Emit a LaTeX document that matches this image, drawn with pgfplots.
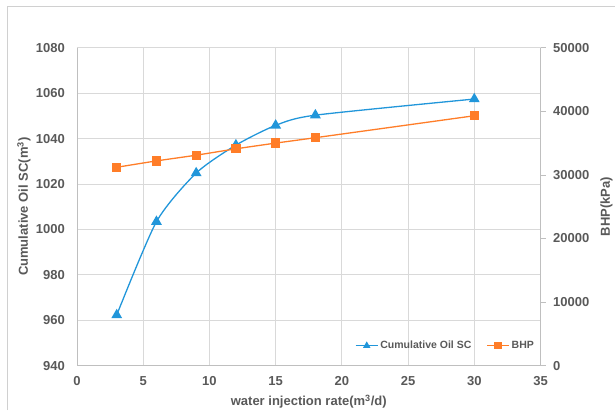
\documentclass[border=0pt]{standalone}
\usepackage{fontspec}
\setmainfont{Liberation Sans}
\usepackage{pgfplots}
\usepackage{pgfplotstable}
\pgfplotsset{compat=1.18}

\definecolor{oilblue}{RGB}{33,150,218}
\definecolor{bhporange}{RGB}{255,125,40}
\definecolor{txtgray}{RGB}{89,89,89}
\definecolor{gridgray}{RGB}{217,217,217}
\definecolor{axgray}{RGB}{191,191,191}
\definecolor{framegray}{RGB}{208,208,208}

% cumulative oil (m^3) against water injection rate (m^3/d)
\pgfplotstableread{
rate oil
3  962.3
6  1003.4
9  1024.8
12 1037.1
15 1045.8
18 1050.3
30 1057.4
}\oiltable

% bottom-hole pressure (kPa)
\pgfplotstableread{
rate bhp
3  31200
6  32200
9  33100
12 34100
15 35000
18 35850
30 39300
}\bhptable

\newcommand{\labfont}{\fontsize{13}{13}\selectfont\bfseries\color{txtgray}}

\pgfplotsset{
  common/.style={
    at={(77pt,44.3pt)}, anchor=south west,
    scale only axis, width=463.5pt, height=318pt,
    xmin=0, xmax=35,
    tick label style={font=\fontsize{13}{13}\selectfont\bfseries, text=txtgray, inner sep=0pt},
    /pgf/number format/assume math mode=true,
    /pgf/number format/1000 sep={},
  },
  oilstyle/.style={color=oilblue, line width=1.3pt, smooth, tension=0.42, mark=triangle*, mark size=5pt},
  bhpstyle/.style={color=bhporange, line width=1.3pt, smooth, tension=0.42, mark=square*, mark size=4pt},
}

\begin{document}
\begin{tikzpicture}[x=1pt,y=1pt]
\useasboundingbox (0,0) rectangle (615,410);
\draw[framegray, line width=1pt] (7,0) -- (7,403) -- (615,403);

\begin{axis}[common,
  ymin=940, ymax=1080, ytick={940,960,...,1080},
  xtick={0,5,...,35},
  axis x line*=bottom, axis y line*=left,
  axis line style={axgray, line width=0.8pt, -},
  x axis line style={-}, y axis line style={-},
  grid=major, major grid style={gridgray, line width=0.8pt},
  major tick length=0pt,
  xticklabel shift=11pt, yticklabel shift=12pt,
  xlabel={\labfont water injection rate(m\textsuperscript{3}/d)},
  ylabel={\labfont Cumulative Oil SC(m\textsuperscript{3})},
  every axis x label/.style={at={(axis description cs:0.5,-0.1126)}, anchor=center},
  every axis y label/.style={at={(axis description cs:-0.1145,0.5)}, rotate=90, anchor=center},
]
\addplot[oilstyle] table[x=rate, y=oil] {\oiltable};
\end{axis}

\begin{axis}[common,
  ymin=0, ymax=50000, ytick={0,10000,...,50000},
  xtick=\empty,
  axis y line*=right, axis x line=none,
  axis line style={axgray, line width=0.8pt, -},
  y axis line style={-},
  scaled y ticks=false,
  ytick align=outside, major tick length=5pt,
  tick style={axgray, line width=0.8pt},
  yticklabel shift=7.5pt,
  ylabel={\labfont BHP(kPa)},
  every axis y label/.style={at={(axis description cs:1.1425,0.5)}, rotate=90, anchor=center},
  legend columns=2,
  legend cell align=left,
  legend style={draw=none, fill=none, at={(axis description cs:0.795,0.063)}, anchor=center,
    font=\fontsize{10.5}{10.5}\selectfont\bfseries, text=txtgray,
    /tikz/every even column/.append style={column sep=13pt}},
  legend image code/.code={
    \draw[mark repeat=2, mark phase=2, #1, mark size=3pt]
      plot coordinates {(0pt,0pt) (11pt,0pt) (22pt,0pt)};},
]
\addlegendimage{oilstyle}
\addlegendentry{Cumulative Oil SC}
\addplot[bhpstyle] table[x=rate, y=bhp] {\bhptable};
\addlegendentry{BHP}
\end{axis}
\end{tikzpicture}
\end{document}
